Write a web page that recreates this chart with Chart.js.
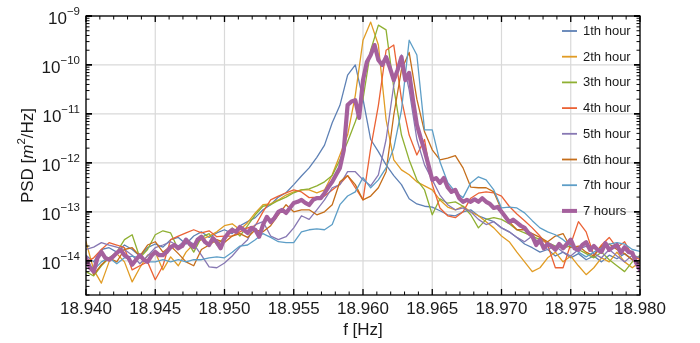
<!DOCTYPE html>
<html><head><meta charset="utf-8">
<script src="https://cdn.jsdelivr.net/npm/chart.js@4.4.1/dist/chart.umd.min.js"></script>
<style>html,body{margin:0;padding:0;background:#fff}canvas{display:block}</style>
</head><body>
<canvas id="c" width="700" height="343"></canvas>
<script>
// ---- data (PSD in m^2/Hz), frequency bins start at 18.940 Hz ----
const freqStart = 18.94;
const hourBin = 1 / 1800;   // bin width of the 1-hour spectra
const totalBin = 1 / 3600;  // bin width of the 7-hour spectrum

const seriesNames = ['1th hour','2th hour','3th hour','4th hour','5th hour','6th hour','7th hour','7 hours'];
const seriesColors = ['#5e81b5','#e19c24','#8fb032','#eb6235','#8778b3','#c56e1a','#5d9ec7','#a5609d'];

const hour1 = [1.3e-14,9.5e-15,1.7e-14,1.85e-14,1.5e-14,2.1e-14,1.7e-14,1.25e-14,1.85e-14,2.2e-14,
 1.9e-14,2.7e-14,3e-14,2.2e-14,3.2e-14,3.9e-14,3e-14,3.7e-14,4.3e-14,3.6e-14,
 5.2e-14,6.3e-14,7.6e-14,1.1e-13,1.4e-13,2e-13,2.45e-13,3.6e-13,5.4e-13,7.9e-13,
 1.3e-12,2.3e-12,6.6e-12,1.5e-11,6.2e-11,1e-10,2e-11,3e-12,1.7e-12,9.1e-13,
 5.5e-13,3.6e-13,1.85e-13,1.45e-13,1.3e-13,1.25e-13,1.05e-13,8.7e-14,8.3e-14,1e-13,
 1.1e-13,8.3e-14,7.2e-14,6.3e-14,4.7e-14,3.9e-14,3e-14,2.2e-14,1.85e-14,1.5e-14,
 1.7e-14,1.25e-14,1.5e-14,1.15e-14,1.4e-14,1.05e-14,1.25e-14,9.5e-15,1.3e-14,1.1e-14,
 1.4e-14,1.05e-14,1.2e-14];
const hour2 = [2.45e-14,6.5e-15,3.5e-15,9.5e-15,1.4e-14,9.5e-15,3.7e-15,7.2e-15,1.3e-14,1.5e-14,
 6.5e-15,1.2e-14,7.9e-15,1.5e-14,2.2e-14,2.7e-14,3.2e-14,3.9e-14,5.2e-14,5.7e-14,
 4.3e-14,6e-14,9.5e-14,1.4e-13,1.45e-13,1.75e-13,2.2e-13,2.55e-13,2.8e-13,2.8e-13,
 2.45e-13,2.8e-13,5.7e-13,1.45e-12,3.7e-12,2.4e-11,3.2e-10,7.5e-10,2.55e-10,7.6e-12,
 1.15e-12,7.2e-13,5.7e-13,4.1e-13,3.4e-13,2.8e-13,1.75e-13,1.25e-13,1.1e-13,1.3e-13,
 1e-13,8.3e-14,6.3e-14,4.7e-14,3.2e-14,2.45e-14,1.5e-14,9.5e-15,6e-15,7.2e-15,
 1.15e-14,1.5e-14,9.5e-15,1.25e-14,7.9e-15,5.2e-15,7.2e-15,1.15e-14,9.5e-15,1.5e-14,
 9.5e-15,7.2e-15,9.5e-15];
const hour3 = [6e-15,4.9e-15,7.9e-15,1.15e-14,1.5e-14,2.7e-14,3.4e-14,1.15e-14,1.7e-14,3.4e-14,
 4.1e-14,3.7e-14,1.7e-14,2.7e-14,1.5e-14,3e-14,3.6e-14,2.1e-14,3e-14,4.7e-14,
 3.2e-14,5.2e-14,8.7e-14,1.3e-13,1.4e-13,1.7e-13,2e-13,2.45e-13,2.8e-13,2.95e-13,
 3.4e-13,4.1e-13,5.5e-13,1.15e-12,2.7e-12,6.9e-12,2e-11,2e-10,6.5e-10,5.2e-10,
 3.4e-11,3.7e-12,1.15e-12,4.5e-13,2.8e-13,8.7e-14,1.85e-13,1.5e-13,1.6e-13,1.3e-13,
 8.7e-14,4.7e-14,7e-14,7.6e-14,7e-14,5.7e-14,4.3e-14,3.7e-14,3.2e-14,2.7e-14,
 2.35e-14,2e-14,1.85e-14,2e-14,1.7e-14,1.4e-14,1.15e-14,1.5e-14,1.05e-14,7.9e-15,
 6e-15,9.5e-15,1.3e-14];
const hour4 = [9.5e-15,1.15e-14,1.7e-14,2.35e-14,2.1e-14,1.85e-14,6.5e-15,7.9e-15,9.5e-15,4.1e-15,
 7.9e-15,2.7e-14,3.2e-14,3.7e-14,4.3e-14,3.7e-14,4.1e-14,3.1e-14,3.2e-14,3.2e-14,
 3.9e-14,4.7e-14,5.2e-14,1e-13,1.75e-13,2.1e-13,2.45e-13,2.8e-13,2.55e-13,1.95e-13,
 2e-13,2.1e-13,2.8e-13,3.7e-13,5.5e-13,3.1e-13,1.75e-13,2e-12,1.5e-11,2e-10,
 2.55e-10,2e-11,3.7e-12,1.45e-12,3e-12,3.6e-13,1.2e-13,8.3e-14,7.6e-14,1e-13,
 1.9e-13,2.4e-13,2.55e-13,2.45e-13,2.1e-13,1.3e-13,9e-14,6.6e-14,4.7e-14,3.2e-14,
 2.1e-14,7.2e-15,7.2e-15,2.2e-14,6.3e-14,3.9e-14,1.3e-14,2.1e-14,3e-14,1.85e-14,
 2.45e-14,1.3e-14,1.05e-14];
const hour5 = [1.7e-14,1.9e-14,2.35e-14,2.1e-14,1.9e-14,1.7e-14,1.3e-14,8.7e-15,1.25e-14,1.85e-14,
 2.1e-14,2.45e-14,2e-14,2.7e-14,2.2e-14,1.3e-14,7.5e-15,7.2e-15,9e-15,1.25e-14,
 1.9e-14,2.7e-14,5.5e-14,6.3e-14,3.2e-14,2.7e-14,3.1e-14,4.7e-14,8.3e-14,7e-14,
 1.1e-13,1.75e-13,3.1e-13,3.6e-13,6.6e-13,6.6e-13,4.5e-13,3.4e-13,5.7e-13,3e-12,
 3.9e-11,1.6e-10,3.1e-11,3e-12,9.1e-13,4.5e-13,2.2e-13,1.4e-13,1.1e-13,1.2e-13,
 1e-13,7e-14,5.5e-14,6.3e-14,4.7e-14,3.9e-14,3e-14,2.45e-14,3.2e-14,2.2e-14,
 1.7e-14,2e-14,1.5e-14,1.25e-14,1.7e-14,2e-14,1.4e-14,1.15e-14,1.7e-14,1.25e-14,
 9.5e-15,1.3e-14,1.15e-14];
const hour6 = [1.15e-14,5.2e-15,8.3e-15,1.15e-14,9.5e-15,1.7e-14,1.85e-14,1.25e-14,2.1e-14,2.45e-14,
 1.5e-14,2e-14,1.4e-14,9.5e-15,7.9e-15,1.7e-14,2.1e-14,2.7e-14,2.35e-14,3.2e-14,
 3.6e-14,3e-14,4.3e-14,3.9e-14,5.2e-14,8.7e-14,1.4e-13,1e-13,1.1e-13,1.1e-13,
 8.7e-14,1e-13,1.4e-13,4.1e-13,5.5e-13,3.6e-13,1.75e-13,2.1e-13,3.1e-13,6.6e-13,
 9.5e-12,8e-11,1.8e-10,2e-11,4.3e-12,1.85e-12,1.15e-12,1.25e-12,1.4e-12,7.9e-13,
 3.2e-13,3.1e-13,3.1e-13,2.55e-13,1.1e-13,6.3e-14,4.3e-14,4.3e-14,3.6e-14,3e-14,
 2.45e-14,3.2e-14,3.6e-14,1.85e-14,2e-14,1.5e-14,1.25e-14,2e-14,2.2e-14,1.7e-14,
 1.4e-14,1.05e-14,8.3e-15];
const hour7 = [1.05e-14,6.5e-15,9.5e-15,1.15e-14,8.7e-15,1.15e-14,1.25e-14,1.15e-14,9.5e-15,9.5e-15,
 1.05e-14,9.5e-15,1.05e-14,9.5e-15,1.05e-14,1.05e-14,1.15e-14,1.2e-14,1.15e-14,1.5e-14,
 2e-14,2.1e-14,2.7e-14,3.6e-14,3e-14,2.45e-14,2.35e-14,2.35e-14,3.9e-14,4.3e-14,
 4.5e-14,4.3e-14,5.5e-14,1.4e-13,2.1e-13,2.55e-13,5e-13,3.1e-13,4.5e-13,7.9e-13,
 2e-12,1.2e-11,3.2e-10,1.6e-10,4.7e-12,4.7e-12,1.05e-12,4e-13,2.55e-13,1.95e-13,
 3.9e-13,5.2e-13,4.5e-13,2.8e-13,1.2e-13,1.25e-13,1.2e-13,9.5e-14,6.6e-14,4.7e-14,
 3.9e-14,3.4e-14,2.7e-14,2e-14,1.5e-14,1.2e-14,1.5e-14,1.85e-14,2.2e-14,2.35e-14,
 2.2e-14,1.7e-14,1.55e-14];
const total7 = [1.15e-14,7.2e-15,6e-15,1.15e-14,1.52e-14,1.15e-14,1.05e-14,1.2e-14,1.45e-14,1.67e-14,
 1.3e-14,1.15e-14,8.3e-15,1.05e-14,1.3e-14,1.05e-14,9.5e-15,1.26e-14,1.52e-14,1.3e-14,
 1.3e-14,1.52e-14,1.9e-14,2.1e-14,1.8e-14,2e-14,2.7e-14,2.2e-14,1.9e-14,2.7e-14,
 3.1e-14,2.4e-14,2.1e-14,2.9e-14,2.4e-14,1.8e-14,2.9e-14,3.7e-14,4.3e-14,3.9e-14,
 4.9e-14,4.3e-14,3.7e-14,4.7e-14,4.3e-14,3.1e-14,5.4e-14,7.9e-14,6.2e-14,7.5e-14,
 1e-13,1.1e-13,9.5e-14,1.2e-13,1.52e-13,1.6e-13,1.75e-13,1.52e-13,1.38e-13,1.75e-13,
 1.9e-13,1.9e-13,2.4e-13,3.2e-13,4.1e-13,5.7e-13,7.9e-13,1.8e-12,1.52e-11,1.8e-11,
 1.9e-11,8.3e-12,4.9e-11,1.15e-10,1.6e-10,2.55e-10,1.26e-10,1e-10,1.45e-10,8.7e-11,
 4.9e-11,7.9e-11,1.45e-10,4.9e-11,6.9e-11,1.9e-11,6e-12,3.2e-12,1.8e-12,9.1e-13,
 4.5e-13,4.9e-13,3.9e-13,4.9e-13,3.2e-13,2.55e-13,2.8e-13,1.9e-13,1.6e-13,1.75e-13,
 1.6e-13,1.8e-13,1.6e-13,1.9e-13,1.6e-13,1.45e-13,1.2e-13,1.26e-13,1e-13,7.9e-14,
 6.2e-14,6.9e-14,6e-14,5.2e-14,4.7e-14,3.7e-14,3.2e-14,2.1e-14,2.7e-14,1.8e-14,
 2.2e-14,2e-14,1.67e-14,2.2e-14,1.8e-14,2.2e-14,2.7e-14,1.8e-14,1.67e-14,2.1e-14,
 2.4e-14,1.67e-14,2e-14,1.67e-14,1.52e-14,2.3e-14,1.67e-14,1.9e-14,2.1e-14,1.45e-14,
 1.9e-14,1.52e-14,1.45e-14,9.1e-15,6.5e-15];

const xTickValues = [18.940,18.945,18.950,18.955,18.960,18.965,18.970,18.975,18.980];
const xTickLabels = ['18.940','18.945','18.950','18.955','18.960','18.965','18.970','18.975','18.980'];
const yTickExponents = [-9,-10,-11,-12,-13,-14];
const yTickLabels = ['\u22129','\u221210','\u221211','\u221212','\u221213','\u221214'];
const xMin = 18.94, xMax = 18.98, yMin = 2e-15, yMax = 1e-9;

// ---- build datasets ----
const toPoints = (arr, bin) => arr.map((v, i) => ({x: freqStart + i * bin, y: v}));
const hourSeries = [hour1, hour2, hour3, hour4, hour5, hour6, hour7];
const datasets = hourSeries.map((arr, k) => ({
  label: seriesNames[k], data: toPoints(arr, hourBin),
  borderColor: seriesColors[k], borderWidth: 1.3, pointRadius: 0, tension: 0,
  order: 10 - k
}));
datasets.push({
  label: seriesNames[7], data: toPoints(total7, totalBin),
  borderColor: seriesColors[7], borderWidth: 4.2, pointRadius: 0, tension: 0,
  borderJoinStyle: 'round', order: 1
});

const FONT = '"Liberation Sans", Arial, Helvetica, sans-serif';

const deco = {
  id: 'deco',
  beforeDatasetsDraw(chart) {
    const {ctx, chartArea: a, scales: {x, y}} = chart;
    ctx.save();
    ctx.strokeStyle = '#d9d9d9';
    ctx.lineWidth = 1.2;
    xTickValues.forEach(v => {
      const px = x.getPixelForValue(v);
      ctx.beginPath(); ctx.moveTo(px, a.top); ctx.lineTo(px, a.bottom); ctx.stroke();
    });
    yTickExponents.forEach(e => {
      const py = y.getPixelForValue(Math.pow(10, e));
      ctx.beginPath(); ctx.moveTo(a.left, py); ctx.lineTo(a.right, py); ctx.stroke();
    });
    ctx.restore();
  },
  afterDatasetsDraw(chart) {
    const {ctx, chartArea: a, scales: {x, y}} = chart;
    ctx.save();
    // frame
    ctx.strokeStyle = '#000';
    ctx.lineWidth = 1.3;
    ctx.strokeRect(a.left, a.top, a.right - a.left, a.bottom - a.top);
    // x ticks (top & bottom, inward)
    for (let k = 0; k <= 40; k++) {
      const v = xMin + k * 0.001;
      const px = x.getPixelForValue(v);
      const len = (k % 5 === 0) ? 6 : 3.5;
      ctx.lineWidth = (k % 5 === 0) ? 1.3 : 1;
      ctx.beginPath();
      ctx.moveTo(px, a.bottom); ctx.lineTo(px, a.bottom - len);
      ctx.moveTo(px, a.top); ctx.lineTo(px, a.top + len);
      ctx.stroke();
    }
    // y ticks (left & right, inward)
    for (let e = -15; e <= -9; e++) {
      for (let m = 1; m <= 9; m++) {
        const v = m * Math.pow(10, e);
        if (v < yMin * 0.999 || v > yMax * 1.001) continue;
        const py = y.getPixelForValue(v);
        const major = m === 1;
        const len = major ? 6 : 3.5;
        ctx.lineWidth = major ? 1.8 : 1;
        ctx.beginPath();
        ctx.moveTo(a.left, py); ctx.lineTo(a.left + len, py);
        ctx.moveTo(a.right, py); ctx.lineTo(a.right - len, py);
        ctx.stroke();
      }
    }
    // x tick labels
    ctx.fillStyle = '#1a1a1a';
    ctx.font = '17px ' + FONT;
    ctx.textAlign = 'center';
    ctx.textBaseline = 'alphabetic';
    xTickValues.forEach((v, i) => {
      ctx.fillText(xTickLabels[i], x.getPixelForValue(v), 314);
    });
    // y tick labels: 10^exp
    yTickExponents.forEach((e, i) => {
      const py = y.getPixelForValue(Math.pow(10, e));
      ctx.font = '17px ' + FONT;
      const wb = ctx.measureText('10').width;
      ctx.font = '11.5px ' + FONT;
      const ws = ctx.measureText(yTickLabels[i]).width;
      const right = a.left - 6;
      ctx.textAlign = 'left';
      ctx.font = '17px ' + FONT;
      ctx.fillText('10', right - ws - wb, py + 8);
      ctx.font = '11.5px ' + FONT;
      ctx.fillText(yTickLabels[i], right - ws, py - 1);
    });
    // axis titles
    ctx.font = '17px ' + FONT;
    ctx.textAlign = 'center';
    ctx.fillText('f [Hz]', (a.left + a.right) / 2, 335);
    ctx.save();
    ctx.translate(33, (a.top + a.bottom) / 2);
    ctx.rotate(-Math.PI / 2);
    const parts = [
      {t: 'PSD [', f: '17px ' + FONT, dy: 0},
      {t: 'm', f: 'italic 17px ' + FONT, dy: 0},
      {t: '2', f: '11.5px ' + FONT, dy: -8},
      {t: '/Hz]', f: '17px ' + FONT, dy: 0}
    ];
    let tw = 0;
    parts.forEach(p => { ctx.font = p.f; p.w = ctx.measureText(p.t).width; tw += p.w; });
    let cx = -tw / 2;
    ctx.textAlign = 'left';
    parts.forEach(p => { ctx.font = p.f; ctx.fillText(p.t, cx, p.dy); cx += p.w; });
    ctx.restore();
    // legend
    ctx.font = '13px ' + FONT;
    ctx.textAlign = 'left';
    ctx.textBaseline = 'middle';
    seriesNames.forEach((name, i) => {
      const ly = 31 + i * 25.7;
      ctx.strokeStyle = seriesColors[i];
      ctx.lineWidth = i === 7 ? 4 : 1.8;
      ctx.beginPath(); ctx.moveTo(562, ly); ctx.lineTo(577, ly); ctx.stroke();
      ctx.fillStyle = '#1a1a1a';
      ctx.fillText(name, 583, ly + 0.5);
    });
    ctx.restore();
  }
};

new Chart(document.getElementById('c'), {
  type: 'line',
  data: {datasets},
  options: {
    responsive: false,
    animation: false,
    devicePixelRatio: 1,
    parsing: true,
    layout: {padding: {left: 86, right: 60, top: 16, bottom: 48}},
    plugins: {legend: {display: false}, tooltip: {enabled: false}},
    elements: {line: {borderCapStyle: 'round', borderJoinStyle: 'round'}},
    scales: {
      x: {type: 'linear', min: xMin, max: xMax, display: false},
      y: {type: 'logarithmic', min: yMin, max: yMax, display: false}
    }
  },
  plugins: [deco]
});
</script>
</body></html>
